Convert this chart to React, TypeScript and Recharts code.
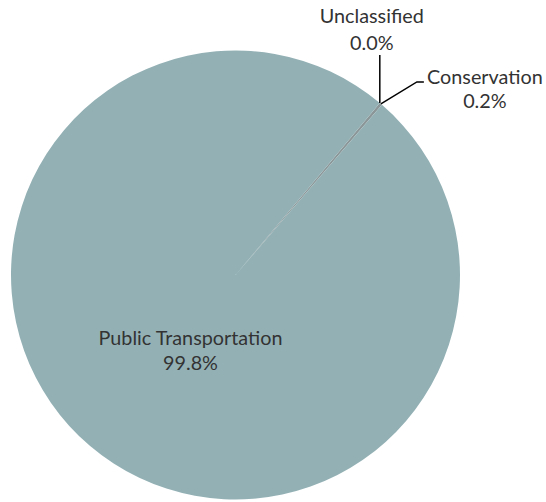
import React from 'react';
import { PieChart, Pie, Cell } from 'recharts';

const categories = ['Unclassified', 'Conservation', 'Public Transportation'];
const shares = [0.0, 0.2, 99.8];
const colors = ['#8a9698', '#8a9698', '#93b1b5'];

const data = categories.map((name, i) => ({ name, value: shares[i] }));

const RADIAN = Math.PI / 180;
const FONT = 'Lato, "Liberation Sans", sans-serif';
const TEXT_COLOR = '#333333';
const FS = 19.8;

const renderLabel = (props: any) => {
  const { cx, cy, midAngle, outerRadius, name, value } = props;
  const px = cx + outerRadius * Math.cos(-midAngle * RADIAN);
  const py = cy + outerRadius * Math.sin(-midAngle * RADIAN);
  const pct = `${Number(value).toFixed(1)}%`;
  if (name === 'Unclassified') {
    return (
      <g>
        <line x1={px} y1={py} x2={px} y2={py - 48} stroke="#000" strokeWidth={1.5} />
        <text x={px - 8} y={py - 80} textAnchor="middle" fill={TEXT_COLOR} fontSize={FS} fontFamily={FONT}>{name}</text>
        <text x={px - 8} y={py - 53} textAnchor="middle" fill={TEXT_COLOR} fontSize={FS} fontFamily={FONT}>{pct}</text>
      </g>
    );
  }
  if (name === 'Conservation') {
    return (
      <g>
        <polyline points={`${px},${py} ${px + 36},${py - 22} ${px + 43},${py - 22}`} fill="none" stroke="#000" strokeWidth={1.5} />
        <text x={px + 104} y={py - 20} textAnchor="middle" fill={TEXT_COLOR} fontSize={FS} fontFamily={FONT}>{name}</text>
        <text x={px + 104} y={py + 4} textAnchor="middle" fill={TEXT_COLOR} fontSize={FS} fontFamily={FONT}>{pct}</text>
      </g>
    );
  }
  return (
    <g>
      <text x={cx - 45} y={cy + 70} textAnchor="middle" fill={TEXT_COLOR} fontSize={FS} fontFamily={FONT}>{name}</text>
      <text x={cx - 45} y={cy + 95} textAnchor="middle" fill={TEXT_COLOR} fontSize={FS} fontFamily={FONT}>{pct}</text>
    </g>
  );
};

export default function App() {
  return (
    <div style={{ position: 'absolute', left: 0, top: 0, background: '#fff' }}>
      <PieChart width={546} height={502} margin={{ top: 0, right: 0, bottom: 0, left: 0 }}>
        <Pie
          data={data}
          dataKey="value"
          nameKey="name"
          cx={235.5}
          cy={275}
          outerRadius={224.5}
          startAngle={50}
          endAngle={-310}
          stroke="none"
          label={renderLabel}
          labelLine={false}
          isAnimationActive={false}
        >
          {data.map((d, i) => (
            <Cell key={d.name} fill={colors[i]} />
          ))}
        </Pie>
      </PieChart>
    </div>
  );
}
